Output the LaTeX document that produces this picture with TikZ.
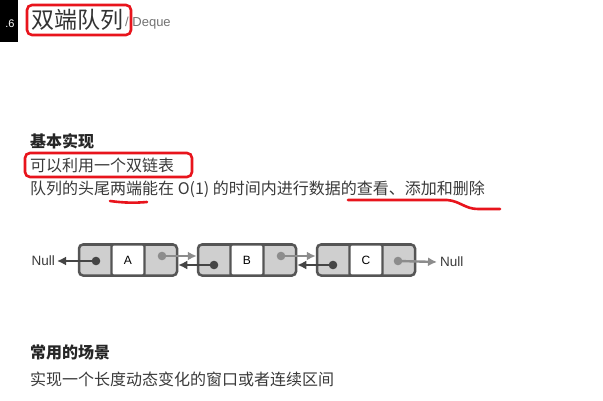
\documentclass[tikz,border=0pt]{standalone}
\usepackage{fontspec}
\setmainfont{Noto Sans CJK SC}
\newfontfamily\latinsans{Liberation Sans}
\usetikzlibrary{arrows.meta}
\definecolor{txt}{HTML}{3A3A3A}
\definecolor{mark}{HTML}{E8141C}
\definecolor{cellgray}{HTML}{CFCFCF}
\definecolor{edge}{HTML}{555555}
\definecolor{darkptr}{HTML}{454545}
\definecolor{lightptr}{HTML}{8C8C8C}
\tikzset{
  x=1pt, y=-1pt,
  body/.style={font=\fontsize{16}{19}\selectfont, text=txt, anchor=west, inner sep=0pt},
  head/.style={body, font=\fontsize{16}{19}\selectfont\bfseries, text=black!85},
  listnode/.style={draw=edge, line width=2.5pt, fill=cellgray, rounded corners=4pt, minimum width=98pt, minimum height=31pt, inner sep=0pt},
  datacell/.style={draw=edge, line width=2.2pt, fill=white, rounded corners=1.5pt, minimum width=33pt, minimum height=31pt, inner sep=0pt, font=\latinsans\fontsize{12}{13}\selectfont, text=black},
  nulltext/.style={font=\latinsans\fontsize{13.5}{14}\selectfont, text=txt, inner sep=0pt},
  darkarrow/.style={draw=darkptr, line width=2.4pt, -{Latex[length=9pt,width=9pt]}},
  lightarrow/.style={draw=lightptr, line width=2.4pt, -{Latex[length=9pt,width=9pt]}},
  redmark/.style={draw=mark, line width=2.6pt, line cap=round},
  redbox/.style={draw=mark, line width=2.6pt, rounded corners=5pt},
}
\begin{document}
\begin{tikzpicture}
\useasboundingbox (0,0) rectangle (603,401);
\fill[white] (0,0) rectangle (603,401);
% tab
\fill[black] (0,0) rectangle (18,42);
\node[text=white, font=\latinsans\fontsize{11}{12}\selectfont, inner sep=0pt] (tab) at (10,24) {.6};
% title
\node[anchor=west, inner sep=0pt, font=\fontsize{23}{27}\selectfont, text=black!80] (title) at (31,20) {双端队列};
\node[anchor=west, inner sep=0pt, font=\latinsans\fontsize{13}{15}\selectfont, text=black!55] (sub) at (125,23) {/ Deque};
\draw[redbox] (27,5) rectangle (131,35);
% section 1
\node[head] (h1) at (30,141) {基本实现};
\node[body] (l1) at (30,165) {可以利用一个双链表};
\node[body] (l2) at (30,189) {队列的头尾两端能在 O(1) 的时间内进行数据的查看、添加和删除};
\draw[redbox] (25,153) rectangle (192,177);
\draw[redmark] (110,201) .. controls (125,203) and (135,203) .. (147,202);
\draw[redmark] (348,200) -- (447,200) .. controls (460,201) and (465,209) .. (478,209) -- (500,209);
% linked list
\node[listnode] (nA) at (128,260) {};
\node[listnode] (nB) at (247,260) {};
\node[listnode] (nC) at (366,260) {};
\node[datacell] (A) at (128,260) {A};
\node[datacell] (B) at (247,260) {B};
\node[datacell] (C) at (366,260) {C};
\node[nulltext, anchor=east] (nullL) at (55,261) {Null};
\node[nulltext, anchor=west] (nullR) at (440,262) {Null};
% dots
\coordinate (Aprev) at (96,261);
\coordinate (Anext) at (162,256);
\coordinate (Bprev) at (214,265);
\coordinate (Bnext) at (281,256);
\coordinate (Cprev) at (333,265);
\coordinate (Cnext) at (398,261);
\draw[darkarrow] (Aprev) -- ([xshift=2pt]nullL.east);
\draw[lightarrow] (Anext) -- (Anext -| nB.west);
\draw[darkarrow] (Bprev) -- (Bprev -| nA.east);
\draw[lightarrow] (Bnext) -- (Bnext -| nC.west);
\draw[darkarrow] (Cprev) -- (Cprev -| nB.east);
\draw[lightarrow] (Cnext) -- ([xshift=-3pt]nullR.west);
\foreach \p in {Aprev,Bprev,Cprev} \fill[darkptr] (\p) circle (4.3pt);
\foreach \p in {Anext,Bnext,Cnext} \fill[lightptr] (\p) circle (4.3pt);
% section 2
\node[head] (h2) at (30,352) {常用的场景};
\node[body] (l3) at (30,379) {实现一个长度动态变化的窗口或者连续区间};
\end{tikzpicture}
\end{document}
